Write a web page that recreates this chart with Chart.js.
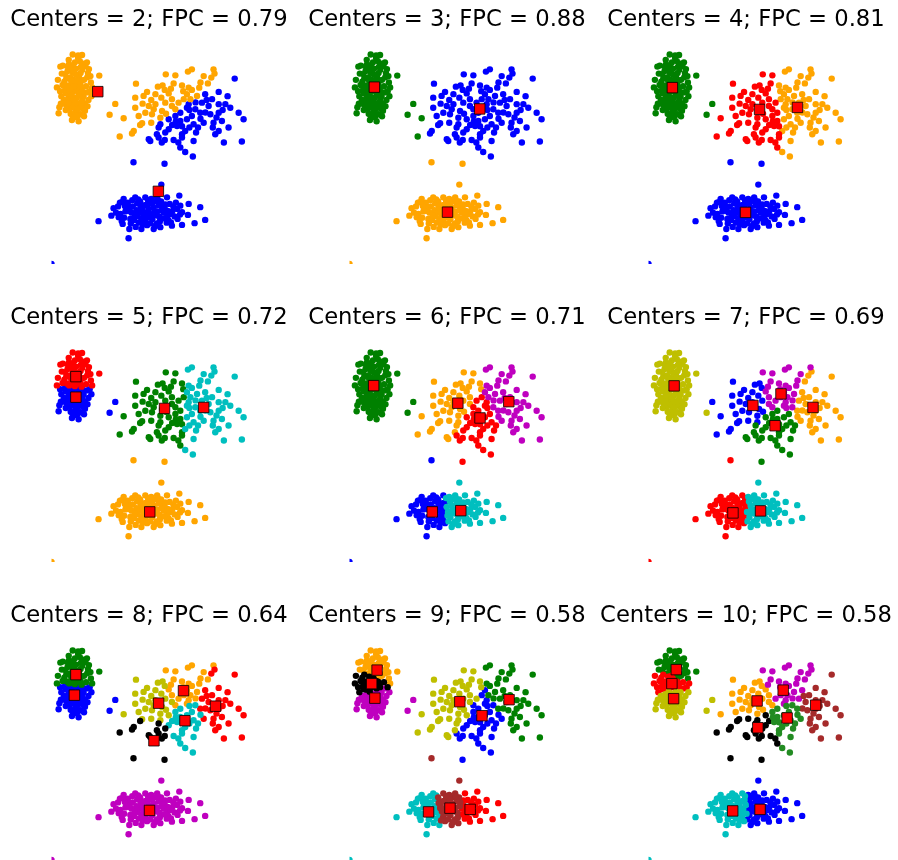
<!DOCTYPE html>
<html>
<head>
<meta charset="utf-8">
<script src="https://cdn.jsdelivr.net/npm/chart.js@4.4.1/dist/chart.umd.min.js"></script>
<style>
  body { margin: 0; background: #fff; width: 898px; height: 860px; position: relative; overflow: hidden; }
  .cell { position: absolute; }
</style>
</head>
<body>
<script>
// Sample points, three blobs plus the point at the origin

const origin = [[0, 0]];

// tall blob, top left
const blobA = [
  [0.86,8.36],[1.08,8.32],[1.24,8.34],[0.36,7.88],[0.70,7.96],[1.94,7.52],[0.26,7.35],[0.22,7.05],
  [0.32,6.26],[0.29,6.02],[0.83,5.75],[1.10,5.70],
  [2.59,6.39],[2.36,5.96],[2.93,5.82],[2.77,5.09],
  [0.95,7.02],[1.10,6.85],[0.82,7.20],[1.20,7.30],[0.70,6.80],[1.05,7.55],[0.90,6.50],[1.30,6.70],
  [0.60,7.40],[1.15,6.30],[0.75,6.20],[1.40,7.10],[0.55,6.95],[1.00,7.80],[0.85,7.65],[1.25,7.75],
  [0.65,7.70],[1.35,6.40],[0.98,6.10],[1.18,5.98],[0.78,6.00],[0.50,6.55],[1.45,7.45],[1.55,6.90],
  [0.45,7.15],[1.08,7.15],[0.88,6.88],[1.22,7.00],[0.72,7.05],[1.02,6.65],[0.92,7.35],[1.12,7.45],
  [0.80,6.60],[1.28,6.20],[0.62,6.35],[1.50,6.55],[0.95,8.05],[1.15,8.10],[0.70,8.15],[1.38,7.90],
  [0.58,6.15],[1.60,7.25],[0.40,6.70],[1.05,5.90],[0.85,5.95],[1.32,5.90],
  [0.98,7.25],[1.18,7.62],[0.76,7.45],[0.88,7.95],[1.05,6.95],[1.25,6.55],[0.68,6.62],[0.85,6.35],
  [1.12,6.72],[0.95,6.28],[1.42,6.85],[0.52,7.28],[0.66,7.88],[1.30,8.00],[1.08,8.22],[0.78,7.82],
  [1.20,7.88],[1.48,7.62],[0.58,6.82],[1.36,6.12],[0.90,7.10],[1.00,6.45],[0.74,6.92],[1.16,7.12],
  [0.82,6.72],[1.32,7.35],[0.96,7.58],[0.64,7.12],[1.24,6.90],[1.06,6.18],[0.70,6.42],[1.46,6.30],
  [0.90,5.85],[1.20,6.45],[0.48,6.40],[1.52,7.78],[0.56,7.58],[0.92,7.72],[1.10,7.32],[0.80,7.32],
  [0.35,6.90],[0.42,7.60],[1.62,6.70],[1.58,7.50],[0.38,6.40],[1.65,7.05],[0.46,7.92],[1.44,8.05]
];

// flat blob, bottom
const blobB = [
  [3.33,4.06],[4.59,4.00],[4.46,3.17],[1.91,1.71],[6.04,2.27],[6.24,1.76],[5.81,1.63],[5.57,2.40],
  [5.19,2.73],[5.23,2.33],[5.30,2.07],[5.54,1.96],[5.30,1.56],[4.89,1.53],[4.85,1.66],[4.69,2.66],
  [4.29,2.66],[3.81,2.66],[3.40,2.66],[2.93,2.60],[2.86,2.47],[2.52,2.23],[2.43,1.93],[2.73,1.87],
  [2.89,1.60],[3.16,1.40],[3.13,1.03],[3.65,1.40],[4.15,1.40],[4.42,1.47],
  [3.00,2.10],[3.30,2.30],[3.50,1.90],[3.70,2.20],[3.90,2.40],[4.10,1.80],[4.30,2.10],[4.50,2.30],
  [4.70,1.90],[4.90,2.10],[3.20,1.80],[3.60,2.50],[4.00,2.00],[4.20,2.50],[4.40,1.70],[4.60,2.20],
  [3.40,2.00],[3.80,1.70],[4.80,2.40],[5.00,1.90],[2.80,2.00],[2.70,2.30],[3.10,2.45],[3.55,1.65],
  [3.95,2.20],[4.25,1.95],[4.05,2.60],[3.75,1.95],[3.45,2.15],[4.55,2.05],[4.35,2.35],[3.85,2.05],
  [3.65,1.80],[4.15,2.25],[2.95,1.85],[5.10,2.20],[3.25,2.05],[4.75,1.75],[4.45,2.50],[3.15,2.30],
  [3.35,1.75],[3.58,2.05],[3.78,2.35],[3.98,1.85],[4.18,2.08],[4.38,1.88],[4.62,2.38],[4.82,2.00],
  [3.05,2.25],[3.28,2.55],[3.48,2.42],[3.68,2.08],[3.88,1.55],[4.08,2.42],[4.28,1.62],[4.48,2.15],
  [4.68,1.65],[4.95,2.30],[5.12,1.80],[2.62,2.05],[2.85,1.72],[3.22,1.62],[3.42,1.48],[3.72,1.58],
  [4.02,1.62],[4.58,1.82],[3.92,2.55],[3.18,2.12],[2.98,2.32],[4.72,2.12],[4.12,1.98],[3.62,2.28],
  [3.82,1.85],[4.32,2.55],[5.05,2.45],[4.22,1.52],[3.52,2.58],[2.78,2.45],[5.22,1.98],[3.38,1.95]
];

// wide blob, top right
const blobC = [
  [5.70,7.77],[5.54,7.68],[6.58,7.77],[6.62,7.60],[6.49,7.44],[6.18,7.50],[4.64,7.57],[5.03,7.53],
  [7.44,7.40],[3.43,7.20],[4.32,7.08],[4.51,7.13],[4.96,7.21],[5.30,7.13],[5.57,7.04],[6.00,7.04],
  [6.35,7.21],[6.79,6.87],[3.88,6.87],[3.74,6.71],[3.40,6.64],[4.22,6.78],[4.46,6.64],[4.76,6.81],
  [5.50,6.78],[5.70,6.95],[6.24,6.78],[6.52,6.58],[6.11,6.44],[3.40,6.24],[3.95,6.31],[4.22,6.38],
  [4.62,6.44],[4.89,6.31],[5.57,6.38],[5.84,6.18],[6.38,6.31],[6.79,6.38],[7.06,6.38],[7.26,6.24],
  [7.60,6.04],[7.80,5.78],[6.79,6.04],[6.45,5.98],[6.04,6.04],[5.70,5.91],[5.50,5.78],[5.23,6.04],
  [5.03,5.91],[4.76,5.78],[4.42,5.84],[4.08,5.98],[3.81,6.04],[3.54,5.91],[3.68,5.62],[4.05,5.64],
  [4.42,5.58],[4.76,5.38],[5.10,5.51],[5.43,5.31],[5.77,5.58],[6.18,5.64],[6.58,5.64],[6.92,5.71],
  [7.19,5.45],[6.79,5.31],[6.65,5.18],[5.87,5.25],[5.30,5.18],[4.62,5.25],[4.28,5.18],[3.34,5.31],
  [3.27,5.21],[3.95,4.98],[4.35,5.05],[4.96,4.95],[5.30,5.05],[5.77,4.91],[4.01,4.91],[4.48,4.85],
  [7.00,4.85],[7.73,4.89],[5.23,4.65],[5.43,4.47],[5.74,4.29],
  [5.16,6.44],[5.37,6.58],[5.03,6.18],[5.50,6.24],[5.23,5.71],[4.89,6.58],[5.64,6.58],[5.91,6.71],
  [4.49,6.11],[4.15,6.18],
  [4.05,6.55],[4.60,6.95],[5.85,6.45],[6.25,6.05],[4.35,5.45],[5.05,5.70],[5.60,5.45],[6.05,5.80],
  [6.95,6.15],[4.85,7.00],[5.35,6.90],[6.70,5.85],[3.70,6.40],[4.65,6.00],[5.95,5.45],[6.30,6.55],
  [5.15,4.85],[4.60,4.95],[7.15,6.70],[6.05,7.25],[3.60,5.55],[4.90,5.55],[5.60,6.15],[6.55,5.45],
  [5.30,5.50]
];

// Cluster centres for each panel, in colour order
const ctr2 = [[4.34,2.90],[1.88,6.88]];
const ctr3 = [[5.29,6.19],[3.98,2.07],[1.01,7.06]];
const ctr4 = [[3.94,2.06],[6.05,6.25],[0.97,7.04],[4.51,6.17]];
const ctr5 = [[0.99,6.58],[3.99,2.00],[4.59,6.13],[0.99,7.40],[6.18,6.17]];
const ctr6 = [[3.36,2.00],[4.40,6.34],[0.98,7.04],[5.30,5.75],[4.52,2.05],[6.47,6.40]];
const ctr7 = [[4.24,6.25],[6.68,6.17],[5.14,5.44],[3.43,1.96],[4.55,2.04],[5.38,6.71],[1.04,7.03]];
const ctr8 = [[0.93,6.58],[5.36,6.76],[0.99,7.40],[6.66,6.14],[5.42,5.56],[3.98,1.98],[4.35,6.26],[4.16,4.76]];
const ctr9 = [[5.38,5.76],[1.12,7.58],[6.48,6.40],[4.90,2.02],[3.21,1.92],[1.03,6.46],[4.48,6.32],[0.90,7.04],[4.08,2.07]];
const ctr10 = [[4.53,2.02],[4.41,6.35],[1.13,7.60],[0.95,7.04],[3.42,1.96],[5.47,6.78],[1.02,6.44],[4.44,5.28],[6.79,6.18],[5.63,5.67]];

const centerSets = [ctr2, ctr3, ctr4, ctr5, ctr6, ctr7, ctr8, ctr9, ctr10];
const fpcValues = ["0.79", "0.88", "0.81", "0.72", "0.71", "0.69", "0.64", "0.58", "0.58"];

const colors = ["#0000ff", "#ffa500", "#008000", "#ff0000", "#00bfbf", "#bf00bf", "#bfbf00", "#000000", "#a52a2a", "#228b22"];

const points = [...origin, ...blobA, ...blobB, ...blobC];

// which centre each point belongs to (highest membership = closest centre)
function nearest(p, ctrs) {
  let best = 0, bestD = Infinity;
  ctrs.forEach((c, j) => {
    const d = (p[0] - c[0]) ** 2 + (p[1] - c[1]) ** 2;
    if (d < bestD) { bestD = d; best = j; }
  });
  return best;
}

// layout: axes box 0..8 x 0..9, 197 x 225.5 px, left edge 51.5 px into each cell
const CELL_W = 298, CELL_H = 264;
const AX_LEFT = 51.5, PX_PER_X = 24.625;

centerSets.forEach((ctrs, i) => {
  const col = i % 3, row = Math.floor(i / 3);

  const canvas = document.createElement("canvas");
  canvas.className = "cell";
  canvas.width = CELL_W;
  canvas.height = CELL_H;
  canvas.style.left = (col * 298.25) + "px";
  canvas.style.top = (row * 298) + "px";
  document.body.appendChild(canvas);

  const datasets = ctrs.map((c, j) => ({
    data: points.filter(p => nearest(p, ctrs) === j).map(p => ({ x: p[0], y: p[1] })),
    backgroundColor: colors[j],
    borderWidth: 0,
    pointRadius: 3.2,
    order: 100 - j,
    clip: { left: -AX_LEFT, top: false, right: false, bottom: 0 }
  }));

  datasets.push({
    data: ctrs.map(c => ({ x: c[0], y: c[1] })),
    pointStyle: "rect",
    pointRadius: 7.4,
    backgroundColor: "#ff0000",
    borderColor: "rgba(0,0,0,0.8)",
    borderWidth: 1,
    order: 0,
    clip: false
  });

  new Chart(canvas, {
    type: "scatter",
    data: { datasets },
    options: {
      responsive: false,
      animation: false,
      events: [],
      layout: { padding: 0, autoPadding: false },
      plugins: {
        legend: { display: false },
        tooltip: { enabled: false },
        title: {
          display: true,
          text: "Centers = " + ctrs.length + "; FPC = " + fpcValues[i],
          color: "#000",
          font: { family: "DejaVu Sans", size: 22.7, weight: "normal", lineHeight: 1.2 },
          padding: { top: 6.8, bottom: 4.5 }
        }
      },
      scales: {
        x: { type: "linear", display: false, min: -AX_LEFT / PX_PER_X, max: (CELL_W - AX_LEFT) / PX_PER_X },
        y: { type: "linear", display: false, min: 0, max: 9 }
      }
    }
  });
});
</script>
</body>
</html>
